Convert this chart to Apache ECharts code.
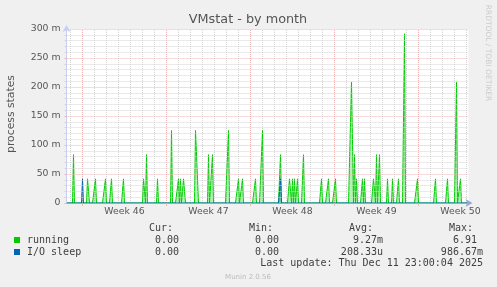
<!DOCTYPE html>
<html>
<head>
<meta charset="utf-8">
<script src="https://cdn.jsdelivr.net/npm/echarts@6/dist/echarts.min.js"></script>
<style>
html,body{margin:0;padding:0;background:#f0f0f0;}
#c{width:497px;height:287px;}
</style>
</head>
<body>
<div id="c"></div>
<script>
// Time axis: hours relative to Mon 2025-11-10 00:00 (start of Week 46); samples every 2 h
const xStart = -32;
const xEnd = 772;
const weekStarts = [0, 168, 336, 504, 672];
const weekLabelPos = [84, 252, 420, 588, 756];
const weekLabels = ['Week 46', 'Week 47', 'Week 48', 'Week 49', 'Week 50'];
const dayLines = [-24, 24, 48, 72, 96, 120, 144, 192, 216, 240, 264, 288, 312, 360, 384, 408, 432, 456, 480, 528, 552, 576, 600, 624, 648, 696, 720, 744, 768];

// running (values in milli-units) – non-zero samples
const runningHours = [-18, 10, 12, 26, 46, 58, 82, 122, 124, 128, 150, 178, 192, 196, 202, 204, 226, 228, 230, 252, 260, 292, 312, 320, 346, 360, 396, 414, 416, 420, 424, 430, 442, 478, 492, 506, 538, 540, 544, 548, 560, 564, 582, 584, 588, 594, 610, 620, 632, 644, 670, 706, 730, 748, 756];
const runningValues = [83.33, 41.67, 41.67, 41.67, 41.67, 41.67, 41.67, 41.67, 41.67, 83.33, 41.67, 125, 41.67, 41.67, 41.67, 41.67, 125, 125, 41.67, 83.33, 83.33, 125, 41.67, 41.67, 41.67, 125, 83.33, 41.67, 41.67, 41.67, 41.67, 41.67, 83.33, 41.67, 41.67, 41.67, 208.33, 208.33, 83.33, 41.67, 41.67, 41.67, 41.67, 41.67, 83.33, 83.33, 41.67, 41.67, 41.67, 291.67, 41.67, 41.67, 41.67, 208.33, 41.67];

// I/O sleep – non-zero samples
const ioHours = [0, 396];
const ioValues = [41.67, 41.67];

function buildSeries(hours, values) {
  const map = {};
  hours.forEach((h, i) => { map[h] = values[i]; });
  const out = [];
  for (let t = xStart; t <= xEnd - 2; t += 2) out.push([t, map[t] !== undefined ? map[t] : 0]);
  return out;
}

const chart = echarts.init(document.getElementById('c'), null, {renderer: 'canvas'});
const txt = '#404040';
const mono = '"DejaVu Sans Mono", monospace';
const sans = '"DejaVu Sans", sans-serif';
const gridGrey = '#d4d4d4';
const gridRed = '#f0b4b4';

const gText = (x, y, s, opt) => Object.assign({
  type: 'text', x: x, y: y,
  style: Object.assign({text: s, fill: txt, font: '10px ' + mono, textVerticalAlign: 'middle'}, opt || {})
});

chart.setOption({
  animation: false,
  backgroundColor: '#f0f0f0',
  grid: {left: 66.5, top: 29, width: 402, height: 174, show: true, backgroundColor: '#ffffff', borderWidth: 0},
  xAxis: {
    type: 'value', min: xStart, max: xEnd, z: 10,
    axisLine: {show: true, onZero: false, lineStyle: {color: '#9aa4d8', width: 1}, symbol: ['none', 'arrow'], symbolSize: [6, 7], symbolOffset: [0, 4]},
    axisTick: {show: true, customValues: weekStarts, length: 3, lineStyle: {color: gridRed}},
    axisLabel: {customValues: weekLabelPos, formatter: v => weekLabels[weekLabelPos.indexOf(v)] || '', color: '#555', fontFamily: sans, fontSize: 9.3, margin: 4},
    splitLine: {show: false}
  },
  yAxis: {
    type: 'value', min: 0, max: 300, interval: 50, z: 10,
    axisLine: {show: true, onZero: false, lineStyle: {color: '#c8cff2'}, symbol: ['none', 'arrow'], symbolSize: [6, 7], symbolOffset: [0, 4]},
    axisTick: {show: true, length: 2, lineStyle: {color: gridRed}},
    minorTick: {show: true, splitNumber: 5, length: 2, lineStyle: {color: gridGrey}},
    axisLabel: {formatter: v => v === 0 ? '0' : v + ' m', color: '#555', fontFamily: sans, fontSize: 9.3, margin: 6},
    splitLine: {show: true, lineStyle: {color: gridRed, type: [1, 1], width: 1}},
    minorSplitLine: {show: true, lineStyle: {color: gridGrey, type: [1, 1], width: 1}}
  },
  series: [
    {
      type: 'line', z: 1, data: [[xStart, 0]], showSymbol: false, silent: true,
      lineStyle: {opacity: 0},
      markLine: {
        z: 1, silent: true, symbol: 'none', label: {show: false}, animation: false,
        data: dayLines.map(h => ({xAxis: h, lineStyle: {color: gridGrey, type: [1, 1], width: 1}}))
          .concat(weekStarts.map(h => ({xAxis: h, lineStyle: {color: gridRed, type: [1, 1], width: 1}})))
      }
    },
    {
      name: 'running', type: 'line', z: 3, showSymbol: false, silent: true,
      data: buildSeries(runningHours, runningValues),
      lineStyle: {color: '#00cc00', width: 1},
      areaStyle: {color: 'rgba(0,204,0,0.4)'}
    },
    {
      name: 'I/O sleep', type: 'line', z: 4, showSymbol: false, silent: true,
      data: buildSeries(ioHours, ioValues),
      lineStyle: {color: '#0066b3', width: 1},
      areaStyle: {color: 'rgba(0,102,179,0.4)'}
    }
  ],
  graphic: [
    {type: 'text', x: 248, y: 20, style: {text: 'VMstat - by month', fill: '#555', font: '12.8px ' + sans, textAlign: 'center', textVerticalAlign: 'middle'}},
    {type: 'text', x: 11, y: 114, rotation: Math.PI / 2, style: {text: 'process states', fill: '#555', font: '10.8px ' + sans, textAlign: 'center', textVerticalAlign: 'middle'}},
    {type: 'text', x: 488, y: 53, rotation: -Math.PI / 2, style: {text: 'RRDTOOL / TOBI OETIKER', fill: '#cccccc', font: '7.5px ' + sans, textAlign: 'center', textVerticalAlign: 'middle'}},
    gText(149, 228, 'Cur:'),
    gText(249, 228, 'Min:'),
    gText(349, 228, 'Avg:'),
    gText(449, 228, 'Max:'),
    {type: 'rect', shape: {x: 14, y: 237, width: 6, height: 6}, style: {fill: '#00cc00'}},
    gText(27, 240, 'running'),
    gText(179, 240, '0.00', {textAlign: 'right'}),
    gText(279, 240, '0.00', {textAlign: 'right'}),
    gText(383, 240, '9.27m', {textAlign: 'right'}),
    gText(477, 240, '6.91', {textAlign: 'right'}),
    {type: 'rect', shape: {x: 14, y: 249, width: 6, height: 6}, style: {fill: '#0066b3'}},
    gText(27, 252, 'I/O sleep'),
    gText(179, 252, '0.00', {textAlign: 'right'}),
    gText(279, 252, '0.00', {textAlign: 'right'}),
    gText(383, 252, '208.33u', {textAlign: 'right'}),
    gText(483, 252, '986.67m', {textAlign: 'right'}),
    gText(483, 263, 'Last update: Thu Dec 11 23:00:04 2025', {textAlign: 'right'}),
    {type: 'text', x: 248, y: 277, style: {text: 'Munin 2.0.56', fill: '#bbbbbb', font: '7px ' + sans, textAlign: 'center', textVerticalAlign: 'middle'}}
  ]
});
</script>
</body>
</html>
